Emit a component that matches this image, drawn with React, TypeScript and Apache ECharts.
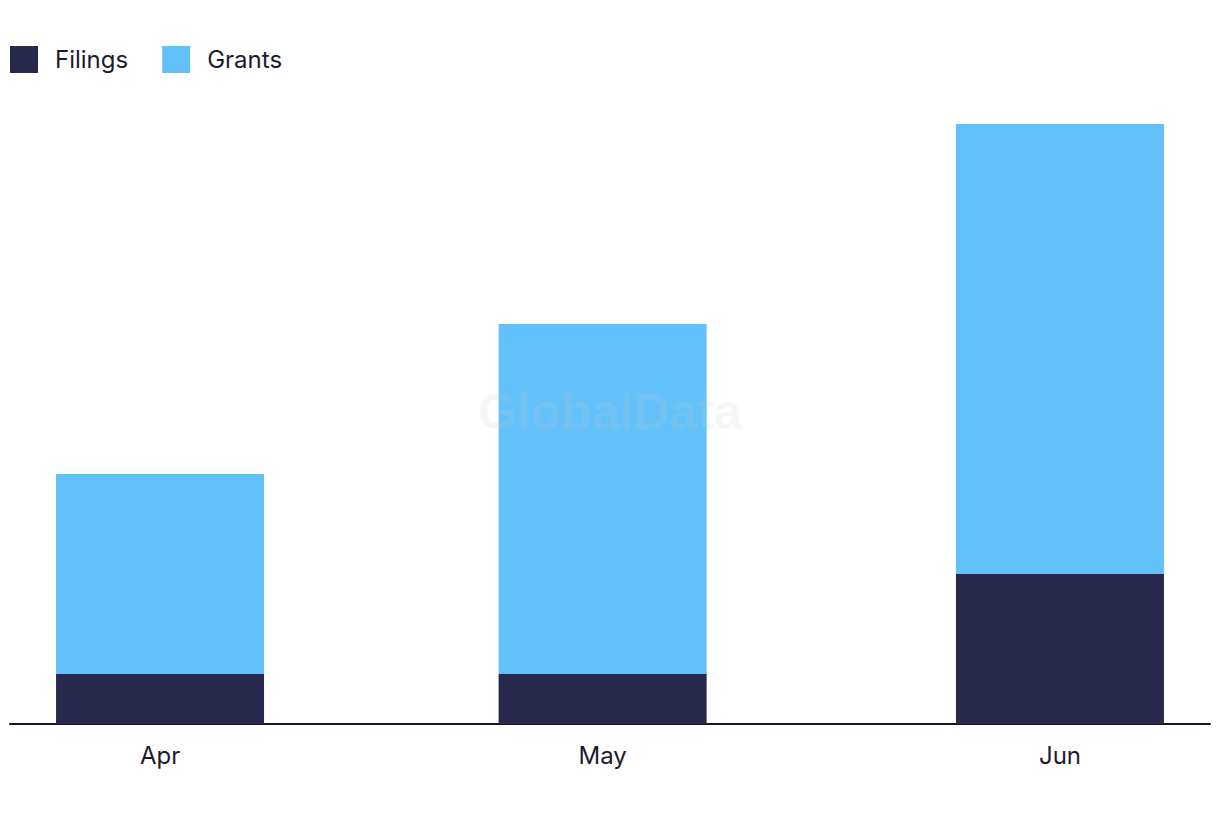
import React, { useEffect, useRef } from "react";
import * as echarts from "echarts";

const months = ["2024-04-01", "2024-05-01", "2024-06-01"];
const monthLabels = ["Apr", "May", "Jun"];
const filings = [1, 1, 3];
const grants = [4, 7, 9];
const seriesNames = ["Filings", "Grants"];

const DAY = 86400000;

export default function App() {
  const ref = useRef<HTMLDivElement>(null);
  useEffect(() => {
    if (!ref.current) return;
    const chart = echarts.init(ref.current, null, { renderer: "svg" });
    const ts = months.map((m) => Date.parse(m + "T00:00:00Z"));
    const plotWidth = 1200;
    const barWidth = 208;
    const pad = 10.17 * DAY;
    // visible extent of the axis
    const xMin = ts[0] - pad;
    const xMax = ts[2] + pad;
    // ECharts widens a bar base axis by the bar width; pre-shrink so the final extent equals xMin..xMax
    const R = xMax - xMin;
    const inner = R * (1 - barWidth / plotWidth);
    const innerMin = xMin + (R - inner) / 2;
    const innerMax = xMax - (R - inner) / 2;
    const font = "Inter, 'Noto Sans', sans-serif";
    chart.setOption({
      animation: false,
      legend: {
        left: 10,
        top: 46,
        padding: 0,
        icon: "rect",
        itemWidth: 28,
        itemHeight: 27,
        itemGap: 34,
        data: seriesNames,
        textStyle: { fontSize: 24, color: "#1b1b2f", fontFamily: font, padding: [0, 0, 0, 12] },
      },
      graphic: [
        {
          type: "text",
          left: "center",
          top: 387,
          z: 100,
          style: {
            text: "GlobalData",
            font: "bold 50px 'Liberation Sans', Arial, sans-serif",
            fill: "rgba(200,200,200,0.16)",
          },
        },
      ],
      grid: { left: 10, right: 10, top: 124, bottom: 98, containLabel: false },
      xAxis: [
        {
          type: "time",
          min: innerMin,
          max: innerMax,
          axisLine: { show: true, onZero: false, lineStyle: { color: "#15152a", width: 2 } },
          axisTick: { show: false },
          splitLine: { show: false },
          axisLabel: { show: false },
        },
        {
          type: "value",
          position: "bottom",
          min: xMin,
          max: xMax,
          axisLine: { show: false },
          axisTick: { show: false },
          splitLine: { show: false },
          axisLabel: {
            customValues: ts,
            margin: 19,
            fontSize: 24,
            color: "#1b1b2f",
            fontFamily: font,
            formatter: (v: number) => {
              const i = ts.findIndex((t) => Math.abs(t - v) < DAY);
              return i >= 0 ? monthLabels[i] : "";
            },
          },
        },
      ],
      yAxis: {
        type: "value",
        min: 0,
        max: 12,
        show: false,
        splitLine: { show: false },
      },
      series: [
        {
          name: seriesNames[0],
          type: "bar",
          stack: "total",
          xAxisIndex: 0,
          barWidth: barWidth,
          itemStyle: { color: "#27284b" },
          data: ts.map((t, i) => [t, filings[i]]),
        },
        {
          name: seriesNames[1],
          type: "bar",
          stack: "total",
          xAxisIndex: 0,
          barWidth: barWidth,
          itemStyle: { color: "#63c1f9" },
          data: ts.map((t, i) => [t, grants[i]]),
        },
      ],
    });
    return () => chart.dispose();
  }, []);
  return (
    <div
      ref={ref}
      style={{ position: "fixed", left: 0, top: 0, width: 1220, height: 822, background: "#fff" }}
    />
  );
}
